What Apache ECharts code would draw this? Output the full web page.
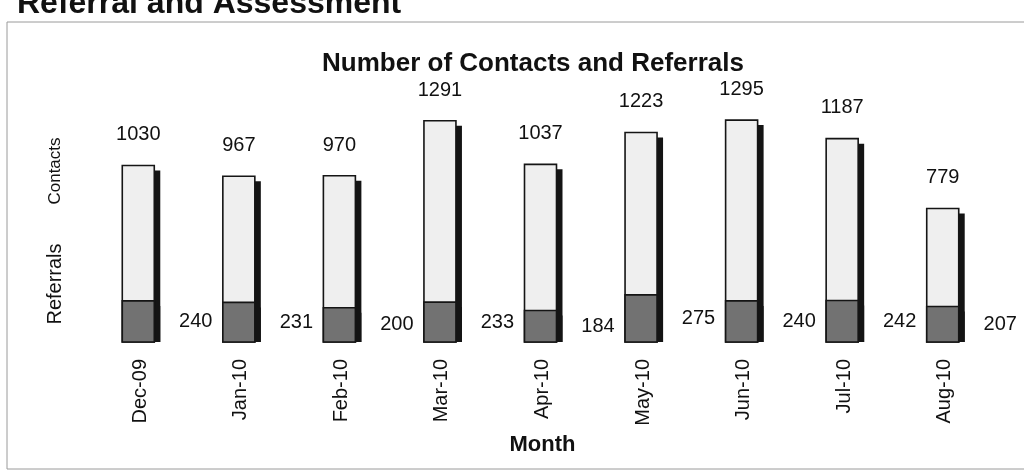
<!DOCTYPE html>
<html><head><meta charset="utf-8">
<script src="https://cdn.jsdelivr.net/npm/echarts@6/dist/echarts.min.js"></script>
<style>html,body{margin:0;padding:0;background:#fff;}#c{width:1024px;height:476px;}</style>
</head><body><div id="c"></div>
<script>
const months = ['Dec-09','Jan-10','Feb-10','Mar-10','Apr-10','May-10','Jun-10','Jul-10','Aug-10'];
const contacts = [1030, 967, 970, 1291, 1037, 1223, 1295, 1187, 779];
const referrals = [240, 231, 200, 233, 184, 275, 240, 242, 207];

const chart = echarts.init(document.getElementById('c'));
const font = 'Liberation Sans, Arial, sans-serif';

function makeRender(fill, labelPos, labelDist) {
  return function (params, api) {
    const i = api.value(0);
    const v = api.value(1);
    const base = api.coord([i, 0]);
    const top = api.coord([i, v]);
    const w = 32, depth = 6, drop = 5;
    const x = base[0] - w / 2 - 2;
    const h = base[1] - top[1];
    return {
      type: 'group',
      children: [
        {type: 'rect', shape: {x: x + depth, y: top[1] + drop, width: w, height: h - drop}, style: {fill: '#141414'}},
        {type: 'rect', shape: {x: x, y: top[1], width: w, height: h},
          style: {fill: fill, stroke: '#151515', lineWidth: 1.6},
          textContent: {style: {text: String(v), font: '20px ' + font, fill: '#111'}},
          textConfig: {position: labelPos, distance: labelDist}}
      ]
    };
  };
}

chart.setOption({
  backgroundColor: '#fff',
  animation: false,
  title: {
    text: 'Number of Contacts and Referrals',
    left: 528, top: 46, textAlign: 'center',
    textStyle: {fontFamily: font, fontSize: 26, fontWeight: 'bold', color: '#111'}
  },
  graphic: [
    {type: 'text', left: 17, top: -12, style: {text: 'Referral and Assessment', font: 'bold 32px ' + font, fill: '#111'}},
    {type: 'rect', shape: {x: 7, y: 22, width: 1030, height: 447}, style: {fill: 'none', stroke: '#9a9a9a', lineWidth: 1}},
    {type: 'text', x: 55, y: 171, rotation: Math.PI / 2, style: {text: 'Contacts', font: '17px ' + font, fill: '#111', align: 'center', verticalAlign: 'middle'}},
    {type: 'text', x: 55, y: 284, rotation: Math.PI / 2, style: {text: 'Referrals', font: '20px ' + font, fill: '#111', align: 'center', verticalAlign: 'middle'}}
  ],
  grid: {left: 90, right: 29, top: 85, bottom: 134},
  xAxis: {
    type: 'category', data: months,
    axisLine: {show: false}, axisTick: {show: false},
    axisLabel: {rotate: 90, fontFamily: font, fontSize: 20, color: '#111', margin: 17},
    name: 'Month', nameLocation: 'middle', nameGap: 86,
    nameTextStyle: {fontFamily: font, fontSize: 22, fontWeight: 'bold', color: '#111'}
  },
  yAxis: {
    type: 'value', min: 0, max: 1500,
    axisLine: {show: false}, axisTick: {show: false}, axisLabel: {show: false}, splitLine: {show: false}
  },
  series: [
    {
      name: 'Contacts', type: 'custom',
      data: contacts.map((v, i) => [i, v]),
      encode: {x: 0, y: 1},
      renderItem: makeRender('#efefef', 'top', 20)
    },
    {
      name: 'Referrals', type: 'custom',
      data: referrals.map((v, i) => [i, v]),
      encode: {x: 0, y: 1},
      renderItem: makeRender('#727272', 'right', 24)
    }
  ]
});
</script>
</body></html>
